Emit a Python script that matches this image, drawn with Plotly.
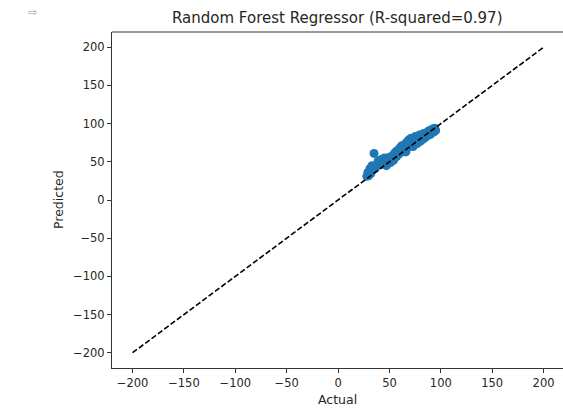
import plotly.graph_objects as go

title_text = "Random Forest Regressor (R-squared=0.97)"
x_label = "Actual"
y_label = "Predicted"

actual = [28, 29, 30, 31, 32, 33, 35, 36, 38, 39, 41, 42, 44, 45, 47, 48, 50, 51, 53, 54,
          55, 56, 57, 58, 59, 60, 61, 62, 63, 64, 65, 66, 67, 68, 69, 70, 71, 72, 73, 74,
          75, 76, 77, 78, 79, 80, 81, 82, 83, 84, 85, 86, 87, 88, 89, 90, 91, 92, 93, 94, 95]
predicted = [31, 36, 32, 41, 35, 45, 61, 41, 46, 51, 46, 53, 48, 55, 45, 53, 56, 49, 58, 52,
             61, 63, 57, 65, 60, 68, 62, 71, 65, 69, 73, 63, 76, 69, 79, 72, 81, 75, 70, 80,
             83, 76, 74, 82, 85, 77, 84, 79, 87, 81, 86, 83, 89, 85, 91, 86, 90, 93, 89, 94, 91]

ref_line = [-200, 200]
tick_vals = [-200, -150, -100, -50, 0, 50, 100, 150, 200]

font_family = "DejaVu Sans"
text_color = "#262626"

fig = go.Figure()
fig.add_trace(go.Scatter(
    x=actual, y=predicted, mode="markers",
    marker=dict(color="#1f77b4", size=9, line=dict(width=0)),
    showlegend=False, hoverinfo="skip",
))
fig.add_trace(go.Scatter(
    x=ref_line, y=ref_line, mode="lines",
    line=dict(color="black", width=1.6, dash="5.5px,2.4px"),
    showlegend=False, hoverinfo="skip",
))

axis_common = dict(
    tickvals=tick_vals,
    showgrid=False, zeroline=False, automargin=False,
    showline=True, linecolor="#333333", linewidth=1,
    ticks="outside", ticklen=4, tickwidth=1, tickcolor="#333333",
    tickfont=dict(family=font_family, size=11.5, color=text_color),
)

fig.update_xaxes(range=[-220, 218.9], **axis_common)
fig.update_yaxes(range=[-220, 220], **axis_common)

fig.add_shape(type="line", xref="paper", yref="paper", x0=0, x1=1, y0=1, y1=1,
              line=dict(color="#333333", width=1))

fig.add_annotation(text=title_text, xref="paper", yref="paper", x=0.5, y=1,
                   yshift=14, xanchor="center", yanchor="middle", showarrow=False,
                   font=dict(family=font_family, size=15, color=text_color))
fig.add_annotation(text=x_label, xref="paper", yref="paper", x=0.5, y=0,
                   yshift=-31, xanchor="center", yanchor="middle", showarrow=False,
                   font=dict(family=font_family, size=12.5, color=text_color))
fig.add_annotation(text=y_label, xref="paper", yref="paper", x=0, y=0.5,
                   xshift=-54, xanchor="center", yanchor="middle", showarrow=False,
                   textangle=-90,
                   font=dict(family=font_family, size=12.5, color=text_color))
fig.add_annotation(text="⇨", xref="paper", yref="paper", x=0, y=1,
                   xshift=-80, yshift=20, xanchor="center", yanchor="middle", showarrow=False,
                   font=dict(family=font_family, size=11, color="#9a9a9a"))

fig.update_layout(
    width=563, height=408,
    margin=dict(l=112, r=0, t=32, b=40, autoexpand=False),
    paper_bgcolor="white", plot_bgcolor="white",
    font=dict(family=font_family, color=text_color),
)

fig.write_html("out.html", config={"displayModeBar": False},
               post_script="document.body.style.margin='0';document.body.style.overflow='hidden';")
